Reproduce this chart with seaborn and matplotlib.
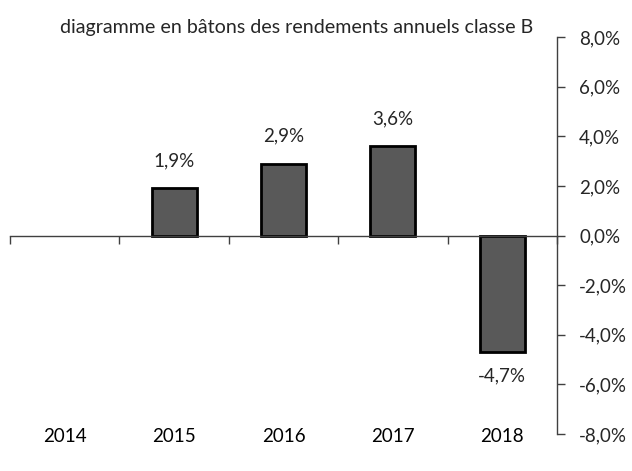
import matplotlib
matplotlib.use("Agg")
import matplotlib.pyplot as plt
import seaborn as sns
import numpy as np
import pandas as pd
from matplotlib.ticker import FuncFormatter

years = ["2014", "2015", "2016", "2017", "2018"]
returns = [np.nan, 1.9, 2.9, 3.6, -4.7]
title = "diagramme en bâtons des rendements annuels classe B"

sns.set_theme(style="white")
plt.rcParams['font.family'] = ['Lato', 'DejaVu Sans']
FS = 13.5

df = pd.DataFrame({"year": years, "ret": returns})

fig = plt.figure(figsize=(6.32, 4.71), dpi=100)
ax = fig.add_axes([0.0158, 0.0786, 0.8655, 0.8428])

sns.barplot(data=df, x="year", y="ret", order=years, color="#595959",
            width=0.41, edgecolor="black", linewidth=2, saturation=1, ax=ax)

ax.set_ylim(-8, 8)
ax.set_xlim(-0.5, len(years) - 0.5)
ax.set_yticks(np.arange(-8, 9, 2))
ax.yaxis.set_major_formatter(FuncFormatter(lambda v, p: f"{v:.1f}%".replace(".", ",")))
ax.yaxis.tick_right()
ax.tick_params(axis="y", which="major", direction="out", length=6, width=1,
               color="#404040", labelsize=FS, pad=10, right=True, left=False)
for s in ["left", "top"]:
    ax.spines[s].set_visible(False)
ax.spines["right"].set_color("#404040")
ax.spines["right"].set_linewidth(1)
ax.spines["bottom"].set_position(("data", 0))
ax.spines["bottom"].set_color("#404040")
ax.spines["bottom"].set_linewidth(1)
ax.set_zorder(1)

# category boundaries as minor ticks on the zero line, labels at the bottom
ax.set_xticks(np.arange(-0.5, len(years), 1), minor=True)
ax.set_xticks(range(len(years)))
ax.set_xticklabels([])
ax.tick_params(axis="x", which="major", length=0, bottom=False)
ax.tick_params(axis="x", which="minor", direction="out", length=6, width=1,
               color="#404040", bottom=True)
for i, y in enumerate(years):
    ax.annotate(y, (i, 0), xycoords=ax.get_xaxis_transform(), xytext=(0, -2),
                textcoords="offset points", ha="center", va="center",
                fontsize=FS, color="black")

ax.set_xlabel("")
ax.set_ylabel("")

for i, v in enumerate(returns):
    if np.isnan(v):
        continue
    lbl = f"{v:.1f}%".replace(".", ",")
    if v >= 0:
        ax.annotate(lbl, (i, v), xytext=(0, 20), textcoords="offset points",
                    ha="center", va="center", fontsize=FS)
    else:
        ax.annotate(lbl, (i, v), xytext=(0, -17), textcoords="offset points",
                    ha="center", va="center", fontsize=FS)

fig.text(297 / 632, 1 - 28 / 471, title, ha="center", va="center", fontsize=14.1)

fig.savefig("out.png", dpi=100)
